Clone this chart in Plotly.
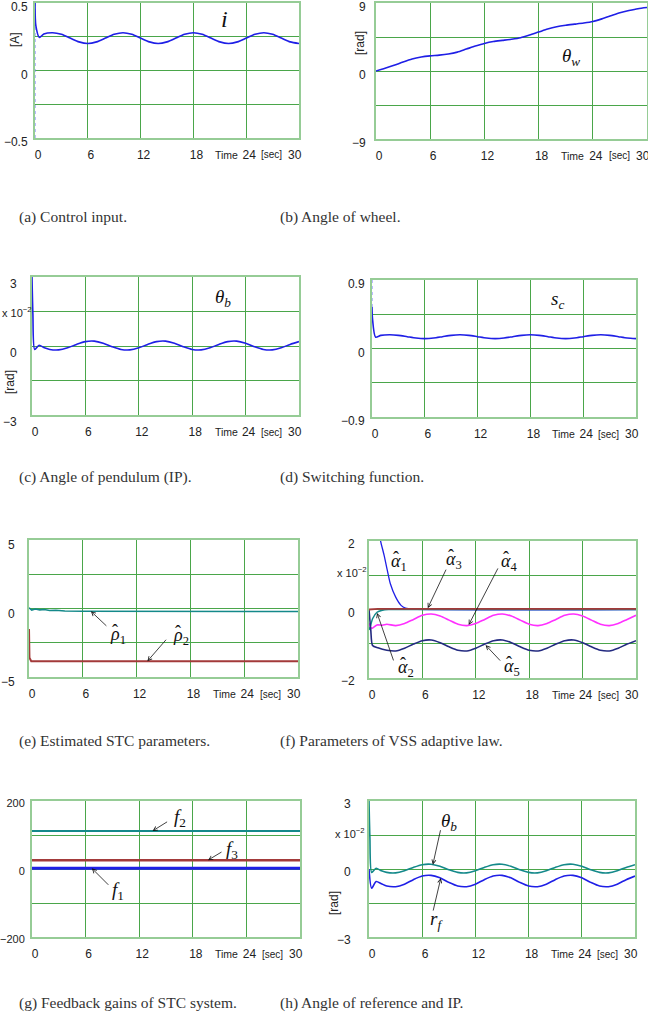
import plotly.graph_objects as go

W, H = 648, 1016

# ---------------- data ----------------
# (a) control input i [A]
I_T = [0, 0.1, 0.5, 1, 2, 3, 4, 5, 6, 7, 8, 9, 10, 11, 12, 13, 14, 15, 16, 17, 18, 19, 20,
       21, 22, 23, 24, 25, 26, 27, 28, 29, 30]
I_VAL = [0.50, 0.33, 0.245, 0.27,
         0.28, 0.268, 0.24, 0.212, 0.20, 0.212, 0.24, 0.268,
         0.28, 0.268, 0.24, 0.212, 0.20, 0.212, 0.24, 0.268,
         0.28, 0.268, 0.24, 0.212, 0.20, 0.212, 0.24, 0.268,
         0.28, 0.268, 0.24, 0.212, 0.20]
I_INIT_T = [0, 0]
I_INIT_VAL = [-0.5, 0.5]

# (b) wheel angle theta_w [rad]
THW_T = [0, 1, 2, 3, 4, 5, 6, 7, 8, 9, 10, 11, 12, 13, 14, 15, 16, 17, 18, 19, 20,
         21, 22, 23, 24, 25, 26, 27, 28, 29, 30]
THW_VAL = [0.0, 0.35, 0.75, 1.2, 1.6, 1.85, 2.0, 2.1, 2.25, 2.5, 2.9, 3.3, 3.65, 3.9, 4.05,
           4.2, 4.4, 4.75, 5.15, 5.55, 5.85, 6.05, 6.2, 6.35, 6.55, 6.9, 7.3, 7.7, 8.0, 8.25, 8.4]

# (c) / (h) pendulum angle theta_b [x1e-2 rad]
THB_T = [0, 0.1, 0.3, 0.8, 1.4, 2, 3, 4, 5, 6, 7, 8, 9, 10, 11, 12, 13, 14, 15, 16, 17, 18,
         19, 20, 21, 22, 23, 24, 25, 26, 27, 28, 29, 30]
THB_VAL = [3.0, 1.4, -0.15, 0.03, -0.08,
           -0.15, -0.17, -0.08, 0.07, 0.19, 0.21, 0.12, -0.03,
           -0.15, -0.17, -0.08, 0.07, 0.19, 0.21, 0.12, -0.03,
           -0.15, -0.17, -0.08, 0.07, 0.19, 0.21, 0.12, -0.03,
           -0.15, -0.17, -0.08, 0.07, 0.19]

# (d) switching function s_c
SC_T = [0, 0.05, 0.4, 1, 2, 3, 4, 5, 6, 7, 8, 9, 10, 11, 12, 13, 14, 15, 16, 17, 18, 19, 20,
        21, 22, 23, 24, 25, 26, 27, 28, 29, 30]
SC_VAL = [0.55, 0.40, 0.15, 0.172,
          0.18, 0.173, 0.155, 0.137, 0.13, 0.137, 0.155, 0.173,
          0.18, 0.173, 0.155, 0.137, 0.13, 0.137, 0.155, 0.173,
          0.18, 0.173, 0.155, 0.137, 0.13, 0.137, 0.155, 0.173,
          0.18, 0.173, 0.155, 0.137, 0.13]
SC_INIT_T = [0, 0]
SC_INIT_VAL = [0.9, 0.55]

# (e) estimated STC parameters
RHO1_T = [0, 0.3, 0.7, 1.2, 1.7, 2.3, 3, 4, 6, 10, 20, 30]
RHO1_VAL = [0.05, -0.12, -0.04, -0.10, -0.07, -0.15, -0.13, -0.18, -0.20, -0.21, -0.22, -0.22]
RHO2_T = [0, 0.05, 0.25, 30]
RHO2_VAL = [-1.5, -3.6, -3.85, -3.85]

# (f) VSS adaptive law parameters [x1e-2]
A1_T = [0.9, 1.3, 1.7, 2.06, 2.4, 3.0, 3.6, 4.1, 5, 30]
A1_VAL = [2.6, 2.0, 1.58, 1.14, 0.75, 0.36, 0.12, 0.04, 0.01, 0.0]
A2_T = [0, 0.2, 0.4, 0.9, 1.5, 2.2, 3, 30]
A2_VAL = [-0.6, -0.45, -0.27, -0.08, -0.02, 0.0, 0.0, 0.0]
A3_T = [0, 1, 30]
A3_VAL = [0.0, 0.02, 0.02]
A4_T = [0, 0.3, 0.9, 1.5, 2, 3, 4, 5, 6, 7, 8, 9, 10, 11, 12, 13, 14, 15, 16, 17, 18, 19, 20,
        21, 22, 23, 24, 25, 26, 27, 28, 29, 30]
A4_VAL = [-0.40, -0.55, -0.45, -0.46,
          -0.43, -0.47, -0.41, -0.29, -0.17, -0.13, -0.19, -0.31,
          -0.43, -0.47, -0.41, -0.29, -0.17, -0.13, -0.19, -0.31,
          -0.43, -0.47, -0.41, -0.29, -0.17, -0.13, -0.19, -0.31,
          -0.43, -0.47, -0.41, -0.29, -0.17]
A5_T = [0, 0.2, 0.4, 1, 2, 3, 4, 5, 6, 7, 8, 9, 10, 11, 12, 13, 14, 15, 16, 17, 18, 19, 20,
        21, 22, 23, 24, 25, 26, 27, 28, 29, 30]
A5_VAL = [0.0, -0.6, -1.05, -1.12,
          -1.19, -1.21, -1.13, -1.01, -0.91, -0.89, -0.97, -1.09,
          -1.19, -1.21, -1.13, -1.01, -0.91, -0.89, -0.97, -1.09,
          -1.19, -1.21, -1.13, -1.01, -0.91, -0.89, -0.97, -1.09,
          -1.19, -1.21, -1.13, -1.01, -0.91]

# (g) feedback gains
F_T = [0, 30]
F1_VAL = [2, 2]
F2_VAL = [112, 112]
F3_VAL = [26, 26]

# (h) reference r_f [x1e-2 rad]
RF_T = [0, 0.3, 0.8, 1.4, 2, 3, 4, 5, 6, 7, 8, 9, 10, 11, 12, 13, 14, 15, 16, 17, 18, 19, 20,
        21, 22, 23, 24, 25, 26, 27, 28, 29, 30]
RF_VAL = [0.0, -0.85, -0.55, -0.65,
          -0.75, -0.78, -0.67, -0.47, -0.31, -0.28, -0.39, -0.59,
          -0.75, -0.78, -0.67, -0.47, -0.31, -0.28, -0.39, -0.59,
          -0.75, -0.78, -0.67, -0.47, -0.31, -0.28, -0.39, -0.59,
          -0.75, -0.78, -0.67, -0.47, -0.31]

X_TICKS = [0, 6, 12, 18, 24, 30]
X_TICKTEXT = ["0", "6", "12", "18", "24", ""]
X_END_LABEL = "30"

CAPTIONS = ["(a) Control input.", "(b) Angle of wheel.", "(c) Angle of pendulum (IP).",
            "(d) Switching function.", "(e) Estimated STC parameters.",
            "(f) Parameters of VSS adaptive law.", "(g) Feedback gains of STC system.",
            "(h) Angle of reference and IP."]

# ---------------- style ----------------
BLUE = "#1f1fe6"
TEAL = "#14898a"
BROWN = "#a33a3a"
MAGENTA = "#ff30ff"
NAVY = "#232a80"
GRID = "#4aa64a"
BORDER = "#96cc96"
SERIF = "Liberation Serif, Times New Roman, serif"
SANS = "Liberation Sans, Arial, sans-serif"
NARROW = "Liberation Sans Narrow, Arial Narrow, Liberation Sans, Arial, sans-serif"


def px(x):
    return x / W


def py(y):
    return 1 - y / H


# panel boxes in pixels: left, right, top, bottom
BOXES = [(35, 299, 3, 138), (376, 647, 3, 139), (32, 299, 277, 415), (372, 636, 280, 417),
         (29, 298, 540, 677), (369, 636, 541, 678), (32, 300, 801, 937), (369, 635, 801, 937)]
YRANGES = [(-0.5, 0.5), (-9, 9), (-3, 3), (-0.9, 0.9), (-5, 5), (-2, 2), (-200, 200), (-3, 3)]
YTEXT = [("−0.5", "0", "0.5"), ("−9", "0", "9"), ("−3", "0", "3"), ("−0.9", "0", "0.9"),
         ("−5", "0", "5"), ("−2", "0", "2"), ("−200", "0", "200"), ("−3", "0", "3")]
YLEN = [3, 6, 11, 3, 10, 10, 3, 14]
# label shift in pixels (positive = downwards in this renderer)
YSHIFT = [4, 4, 7, 4, 5, 3, 2, 3]
YSIZE = [12, 12, 12, 12, 12, 12, 11, 12]

fig = go.Figure()


def ax_names(k):
    s = "" if k == 1 else str(k)
    return "x" + s, "y" + s


def add(k, t, v, color, width=1.6, dash="solid", shape="spline"):
    xa, ya = ax_names(k)
    line = dict(color=color, width=width, dash=dash, shape=shape)
    if shape == "spline":
        line["smoothing"] = 0.7
    fig.add_trace(go.Scatter(x=t, y=v, mode="lines", xaxis=xa, yaxis=ya, showlegend=False,
                             hoverinfo="skip", line=line))


add(1, I_INIT_T, I_INIT_VAL, "#7777ff", 1, "dot", "linear")
add(1, I_T, I_VAL, BLUE)
add(2, THW_T, THW_VAL, BLUE)
add(3, THB_T, THB_VAL, BLUE)
add(4, SC_INIT_T, SC_INIT_VAL, "#7777ff", 1, "dot", "linear")
add(4, SC_T, SC_VAL, BLUE)
add(5, RHO1_T, RHO1_VAL, TEAL, 1.6, shape="linear")
add(5, RHO2_T, RHO2_VAL, BROWN, 2, shape="linear")
add(6, A1_T, A1_VAL, BLUE, 1.3)
add(6, A2_T, A2_VAL, TEAL, 1.5)
add(6, A4_T, A4_VAL, MAGENTA, 1.6)
add(6, A5_T, A5_VAL, NAVY, 1.6)
add(6, A3_T, A3_VAL, BROWN, 1.8, shape="linear")
add(7, F_T, F2_VAL, TEAL, 2, shape="linear")
add(7, F_T, F3_VAL, BROWN, 2.5, shape="linear")
add(7, F_T, F1_VAL, BLUE, 3, shape="linear")
add(8, THB_T, THB_VAL, TEAL)
add(8, RF_T, RF_VAL, BLUE)

layout = dict(width=W, height=H, margin=dict(l=0, r=0, t=0, b=0, autoexpand=False),
              paper_bgcolor="white", plot_bgcolor="white", showlegend=False)

annotations = []


def note(text, x, y, size, family, color="#222", xanchor="center", angle=0):
    annotations.append(dict(text=text, xref="paper", yref="paper", x=px(x), y=py(y),
                            xanchor=xanchor, yanchor="middle", textangle=angle,
                            showarrow=False, font=dict(family=family, size=size, color=color)))


for i, (box, yr, yt) in enumerate(zip(BOXES, YRANGES, YTEXT)):
    k = i + 1
    l, r, t, b = box
    xa, ya = ax_names(k)
    xkey = "xaxis" + ("" if k == 1 else str(k))
    ykey = "yaxis" + ("" if k == 1 else str(k))
    lo, hi = yr
    layout[xkey] = dict(domain=[px(l), px(r)], anchor=ya, range=[0, 30],
                        tickvals=X_TICKS, ticktext=X_TICKTEXT,
                        showgrid=True, gridcolor=GRID, gridwidth=1, zeroline=False,
                        showline=True, mirror=True, linecolor=BORDER, linewidth=2,
                        ticks="outside", ticklen=5, tickcolor="rgba(0,0,0,0)",
                        ticklabelshift=3, ticklabeloverflow="allow",
                        tickfont=dict(family=NARROW, size=12, color="#222"))
    layout[ykey] = dict(domain=[py(b), py(t)], anchor=xa, range=[lo, hi],
                        tickvals=[lo, lo / 2, 0, hi / 2, hi],
                        ticktext=[yt[0], "", yt[1], "", yt[2]],
                        showgrid=True, gridcolor=GRID, gridwidth=1, zeroline=False,
                        showline=True, mirror=True, linecolor=BORDER, linewidth=2,
                        ticks="outside", ticklen=YLEN[i], tickcolor="rgba(0,0,0,0)",
                        ticklabelshift=YSHIFT[i], ticklabeloverflow="allow",
                        tickfont=dict(family=SANS, size=YSIZE[i], color="#222"))
    # "Time", "[sec]" and the end label "30" along the x tick row
    for txt, xv, shift, sz in (("Time", 21.8, 0, 10.5), ("[sec]", 26.9, 0, 10),
                               (X_END_LABEL, 30, -4, 12)):
        annotations.append(dict(text=txt, xref=xa, yref="paper", x=xv, y=py(b + 17),
                                xanchor="center", yanchor="middle", xshift=shift,
                                showarrow=False,
                                font=dict(family=NARROW, size=sz, color="#222")))

# captions
CAP_POS = [(17, 217), (278, 217), (17, 477), (278, 477), (17, 741), (278, 741), (17, 1003), (278, 1003)]
for text, (cx, cy) in zip(CAPTIONS, CAP_POS):
    note(text, cx, cy, 15.5, SERIF, "#333", xanchor="left")

# y-axis unit labels
for text, (ux, uy) in [("[A]", (15, 40)), ("[rad]", (360, 43)), ("[rad]", (10, 382)),
                       ("[rad]", (334, 903))]:
    note(text, ux, uy, 12, SANS, angle=-90)

# scale notes
for (sx, sy) in [(17, 312), (352, 572), (350, 833)]:
    note("x 10<sup>−2</sup>", sx, sy, 11, SANS)

# math labels
LABELS = [("<i>i</i>", 224, 19, 24), ("<i>θ</i><sub><i>w</i></sub>", 571, 57, 19),
          ("<i>θ</i><sub><i>b</i></sub>", 223, 298, 19), ("<i>s</i><sub><i>c</i></sub>", 557, 300, 19),
          ("<i>ρ</i><sub>1</sub>", 118, 635, 18), ("<i>ρ</i><sub>2</sub>", 181, 636, 18),
          ("<i>α</i><sub>1</sub>", 399, 562, 18), ("<i>α</i><sub>3</sub>", 454, 560, 18),
          ("<i>α</i><sub>4</sub>", 509, 562, 18), ("<i>α</i><sub>2</sub>", 406, 668, 18),
          ("<i>α</i><sub>5</sub>", 512, 667, 18),
          ("<i>f</i><sub>2</sub>", 180, 818, 19), ("<i>f</i><sub>3</sub>", 232, 850, 19),
          ("<i>f</i><sub>1</sub>", 118, 891, 19),
          ("<i>θ</i><sub><i>b</i></sub>", 449, 822, 19), ("<i>r</i><sub><i>f</i></sub>", 436, 920, 19)]
for text, lx, ly, sz in LABELS:
    note(text, lx, ly, sz, SERIF, "#111")
    if "ρ" in text or "α" in text:
        note("ˆ", lx - 3, ly - 4, 18, SERIF, "#111")

# arrows: panel, head (data coords), tail offset in pixels
ARROWS = [(5, 6.9, -0.2, 17, 16), (5, 13.2, -3.85, 20, -23),
          (6, 6.6, 0.04, 19, -40), (6, 11.2, -0.45, 30, -58), (6, 0.9, -0.1, 17, 49),
          (6, 13.1, -1.04, 16, 17),
          (7, 13.5, 112, 16, -10), (7, 19.7, 26, 15, -9), (7, 6.7, 2, 18, 18),
          (8, 7.2, 0.19, 8, -36), (8, 8.1, -0.4, -8, 34)]
for k, hx, hy, dx, dy in ARROWS:
    xa, ya = ax_names(k)
    annotations.append(dict(text="", xref=xa, yref=ya, x=hx, y=hy, ax=dx, ay=dy,
                            showarrow=True, arrowhead=5, arrowsize=1, arrowwidth=0.8,
                            arrowcolor="#111", standoff=0, startstandoff=0))

layout["annotations"] = annotations
fig.update_layout(**layout)
fig.write_html("out.html", config={"displayModeBar": False},
               post_script="document.body.style.margin='0';document.body.style.overflow='hidden';")
